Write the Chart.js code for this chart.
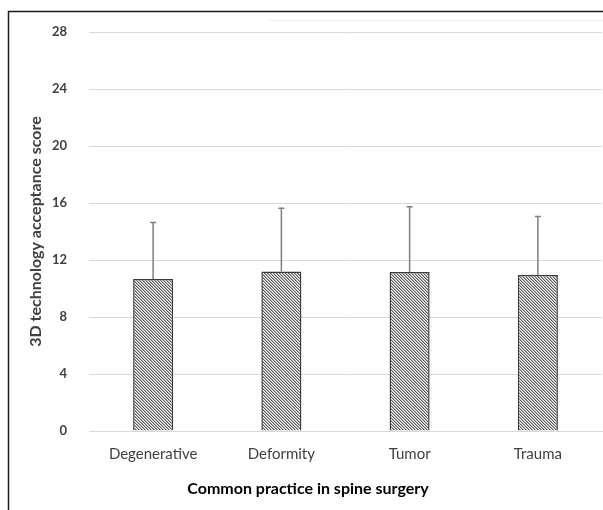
<!DOCTYPE html>
<html>
<head>
<meta charset="utf-8">
<script src="https://cdn.jsdelivr.net/npm/chart.js@4"></script>
<style>
  html, body { margin: 0; padding: 0; background: #fff; }
  #wrap { width: 603px; height: 510px; position: relative; }
</style>
</head>
<body>
<div id="wrap"><canvas id="chart" width="603" height="510"></canvas></div>
<script>
// acceptance score by practice area (mean + SD)
const categories = ['Degenerative', 'Deformity', 'Tumor', 'Trauma'];
const means = [10.66, 11.2, 11.15, 10.94];
const sds = [3.98, 4.43, 4.59, 4.12];
const yTicks = [0, 4, 8, 12, 16, 20, 24, 28];

const FONT = 'Lato, "Open Sans", sans-serif';
const TEXT = '#404040';

// fine diagonal hatch fill for the bars
function hatch() {
    const c = document.createElement('canvas');
    c.width = 3; c.height = 3;
    const g = c.getContext('2d');
    g.fillStyle = '#ffffff';
    g.fillRect(0, 0, 3, 3);
    g.fillStyle = '#5a5a5a';
    for (let i = 0; i < 3; i++) g.fillRect(i, i, 1, 1);
    g.fillStyle = '#b0b0b0';
    for (let i = 0; i < 3; i++) g.fillRect((i + 1) % 3, i, 1, 1);
    return g.createPattern(c, 'repeat');
}

const errorBars = {
    id: 'errorBars',
    afterDatasetsDraw(chart) {
        const { ctx, scales: { y } } = chart;
        const meta = chart.getDatasetMeta(0);
        ctx.save();
        ctx.strokeStyle = '#7f7f7f';
        ctx.lineWidth = 1.5;
        meta.data.forEach((bar, i) => {
            const top = y.getPixelForValue(means[i] + sds[i]);
            const base = y.getPixelForValue(means[i]);
            ctx.beginPath();
            ctx.moveTo(bar.x, base);
            ctx.lineTo(bar.x, top);
            ctx.moveTo(bar.x - 3, top);
            ctx.lineTo(bar.x + 3, top);
            ctx.stroke();
        });
        ctx.restore();
    }
};

const frame = {
    id: 'frame',
    afterDraw(chart) {
        const { ctx, width, height } = chart;
        ctx.save();
        ctx.strokeStyle = '#1a1a1a';
        ctx.lineWidth = 1.5;
        ctx.beginPath();
        ctx.moveTo(8.5, height);
        ctx.lineTo(8.5, 11.5);
        ctx.lineTo(width, 11.5);
        ctx.stroke();
        ctx.strokeStyle = '#f0f0f0';
        ctx.lineWidth = 1;
        ctx.beginPath();
        ctx.moveTo(268, 20.5);
        ctx.lineTo(width, 20.5);
        ctx.stroke();
        // x axis title
        ctx.fillStyle = '#000';
        ctx.font = 'bold 16px ' + FONT;
        ctx.textAlign = 'center';
        ctx.textBaseline = 'middle';
        ctx.fillText('Common practice in spine surgery', 308, 489);
        ctx.restore();
    }
};

new Chart(document.getElementById('chart'), {
    type: 'bar',
    data: {
        labels: categories,
        datasets: [{
            data: means,
            backgroundColor: hatch(),
            borderColor: '#3a3a3a',
            borderWidth: 1.5,
            barPercentage: 0.52,
            categoryPercentage: 0.6
        }]
    },
    options: {
        responsive: false,
        animation: false,
        layout: { padding: { top: 32, right: 1, left: 9, bottom: 0 } },
        plugins: { legend: { display: false }, tooltip: { enabled: false } },
        scales: {
            x: {
                grid: { display: false, drawTicks: false },
                border: { color: '#d9d9d9' },
                ticks: { color: TEXT, font: { family: FONT, size: 15 }, padding: 14 },
                afterFit(s) { s.height = 79; }
            },
            y: {
                min: 0, max: 28,
                afterBuildTicks(s) { s.ticks = yTicks.map(v => ({ value: v })); },
                grid: { color: '#d9d9d9', drawTicks: false },
                border: { display: false },
                ticks: { color: TEXT, font: { family: FONT, size: 13, weight: 'bold' }, padding: 22 },
                title: {
                    display: true,
                    text: '3D technology acceptance score',
                    color: TEXT,
                    font: { family: FONT, size: 16, weight: 'bold' },
                    padding: { top: 17, bottom: 0 }
                },
                afterFit(s) { s.width = 80; }
            }
        }
    },
    plugins: [errorBars, frame]
});
</script>
</body>
</html>
